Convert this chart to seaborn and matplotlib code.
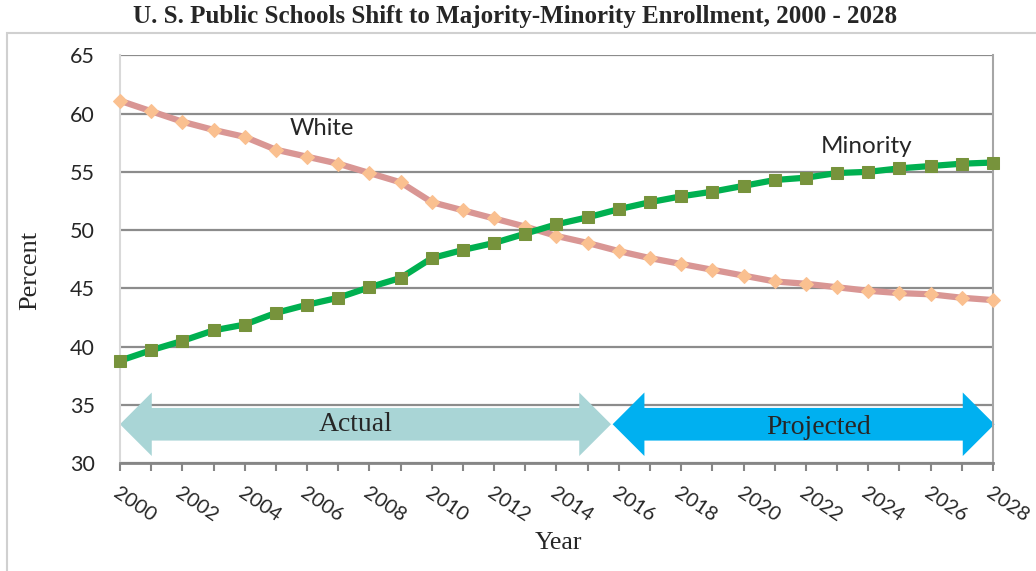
import matplotlib
matplotlib.use("Agg")
import matplotlib.pyplot as plt
import matplotlib.patches as mpatches
import seaborn as sns
import pandas as pd

# --- dados ---
anos = list(range(2000, 2029))
white = [61.1, 60.2, 59.3, 58.6, 58.0, 56.9, 56.3, 55.7, 54.9, 54.1,
         52.4, 51.7, 51.0, 50.3, 49.5, 48.9, 48.2, 47.6, 47.1, 46.6,
         46.1, 45.6, 45.4, 45.1, 44.8, 44.6, 44.5, 44.2, 44.0]
minority = [38.8, 39.7, 40.5, 41.4, 41.9, 42.9, 43.6, 44.2, 45.1, 45.9,
            47.6, 48.3, 48.9, 49.7, 50.5, 51.1, 51.8, 52.4, 52.9, 53.3,
            53.8, 54.3, 54.5, 54.9, 55.0, 55.3, 55.5, 55.7, 55.8]
periodo_actual = (2000, 2015.75)
periodo_projected = (2015.8, 2028.05)

df = pd.DataFrame({"Year": anos, "White": white, "Minority": minority})

sns.set_theme(style="white")
plt.rcParams["font.family"] = ["Lato", "DejaVu Sans"]
serif = ["Liberation Serif", "DejaVu Serif"]

fig = plt.figure(figsize=(10.36, 5.71), dpi=100)
ax = fig.add_axes([0.1158, 0.1886, 0.8427, 0.7146])

# moldura externa clara
fig.patches.append(mpatches.Rectangle((7 / 1036, -0.02), 1.1, 1 - 33 / 571 + 0.02,
                                      transform=fig.transFigure, fill=False,
                                      edgecolor="#d0d0d0", lw=1.5, zorder=0))

ax.set_xlim(2000, 2028)
ax.set_ylim(30, 65)
ax.set_yticks(range(30, 66, 5))
ax.yaxis.grid(True, color="#8c8c8c", lw=1.6)
ax.xaxis.grid(False)

# setas de duas pontas: Actual / Projected
def seta(x0, x1, cor):
    y = 33.35
    shaft_h = 2.8
    head_h = 5.45
    hl = 1.02
    pts = [(x0, y), (x0 + hl, y + head_h / 2), (x0 + hl, y + shaft_h / 2),
           (x1 - hl, y + shaft_h / 2), (x1 - hl, y + head_h / 2), (x1, y),
           (x1 - hl, y - head_h / 2), (x1 - hl, y - shaft_h / 2),
           (x0 + hl, y - shaft_h / 2), (x0 + hl, y - head_h / 2)]
    poly = mpatches.Polygon(pts, closed=True, facecolor=cor, edgecolor="none",
                            zorder=2, clip_on=False)
    ax.add_patch(poly)

seta(*periodo_actual, "#a9d5d6")
seta(*periodo_projected, "#00b0f0")
ax.text(2007.57, 33.35, "Actual", family=serif, fontsize=20, ha="center", va="center", zorder=5)
ax.text(2022.4, 33.1, "Projected", family=serif, fontsize=20, ha="center", va="center", zorder=5)

sns.lineplot(data=df, x="Year", y="White", ax=ax, color="#d99694", lw=4.5,
             marker="D", markersize=7, markerfacecolor="#fac090",
             markeredgecolor="#fac090", clip_on=False, zorder=3)
sns.lineplot(data=df, x="Year", y="Minority", ax=ax, color="#00b050", lw=4.5,
             marker="s", markersize=8, markerfacecolor="#77933c",
             markeredgecolor="#77933c", clip_on=False, zorder=4)

ax.text(2006.48, 58.75, "White", fontsize=17, ha="center", va="center")
ax.text(2023.93, 57.2, "Minority", fontsize=17.5, ha="center", va="center")

# eixos
ax.set_xlabel("")
ax.set_ylabel("")
ax.set_xticks(anos)
ax.set_xticklabels([str(a) if a % 2 == 0 else "" for a in anos])
for lbl in ax.get_xticklabels():
    lbl.set_rotation(-34)
    lbl.set_ha("left")
    lbl.set_va("top")
    lbl.set_rotation_mode("anchor")
    lbl.set_fontsize(14.5)
ax.tick_params(axis="x", bottom=True, length=6, width=1.5, color="#868686", pad=9)
ax.tick_params(axis="y", left=False, length=0, pad=18, labelsize=15.5)
ax.spines["right"].set_color("#a6a6a6")
ax.spines["right"].set_linewidth(1.5)
ax.spines["top"].set_visible(False)
ax.spines["left"].set_color("#d9d9d9")
ax.spines["left"].set_linewidth(1.5)
ax.spines["bottom"].set_color("#868686")
ax.spines["bottom"].set_linewidth(2)

fig.text(0.497, 1 - 17 / 571, "U. S. Public Schools Shift to Majority-Minority Enrollment, 2000 - 2028",
         family=serif, fontsize=18, fontweight="bold", ha="center", va="center")
fig.text(558 / 1036, 1 - 543 / 571, "Year", family=serif, fontsize=18.5, ha="center", va="center")
fig.text(30 / 1036, 1 - 270 / 571, "Percent", family=serif, fontsize=19, ha="center",
         va="center", rotation=90)

fig.savefig("out.png", dpi=100)
